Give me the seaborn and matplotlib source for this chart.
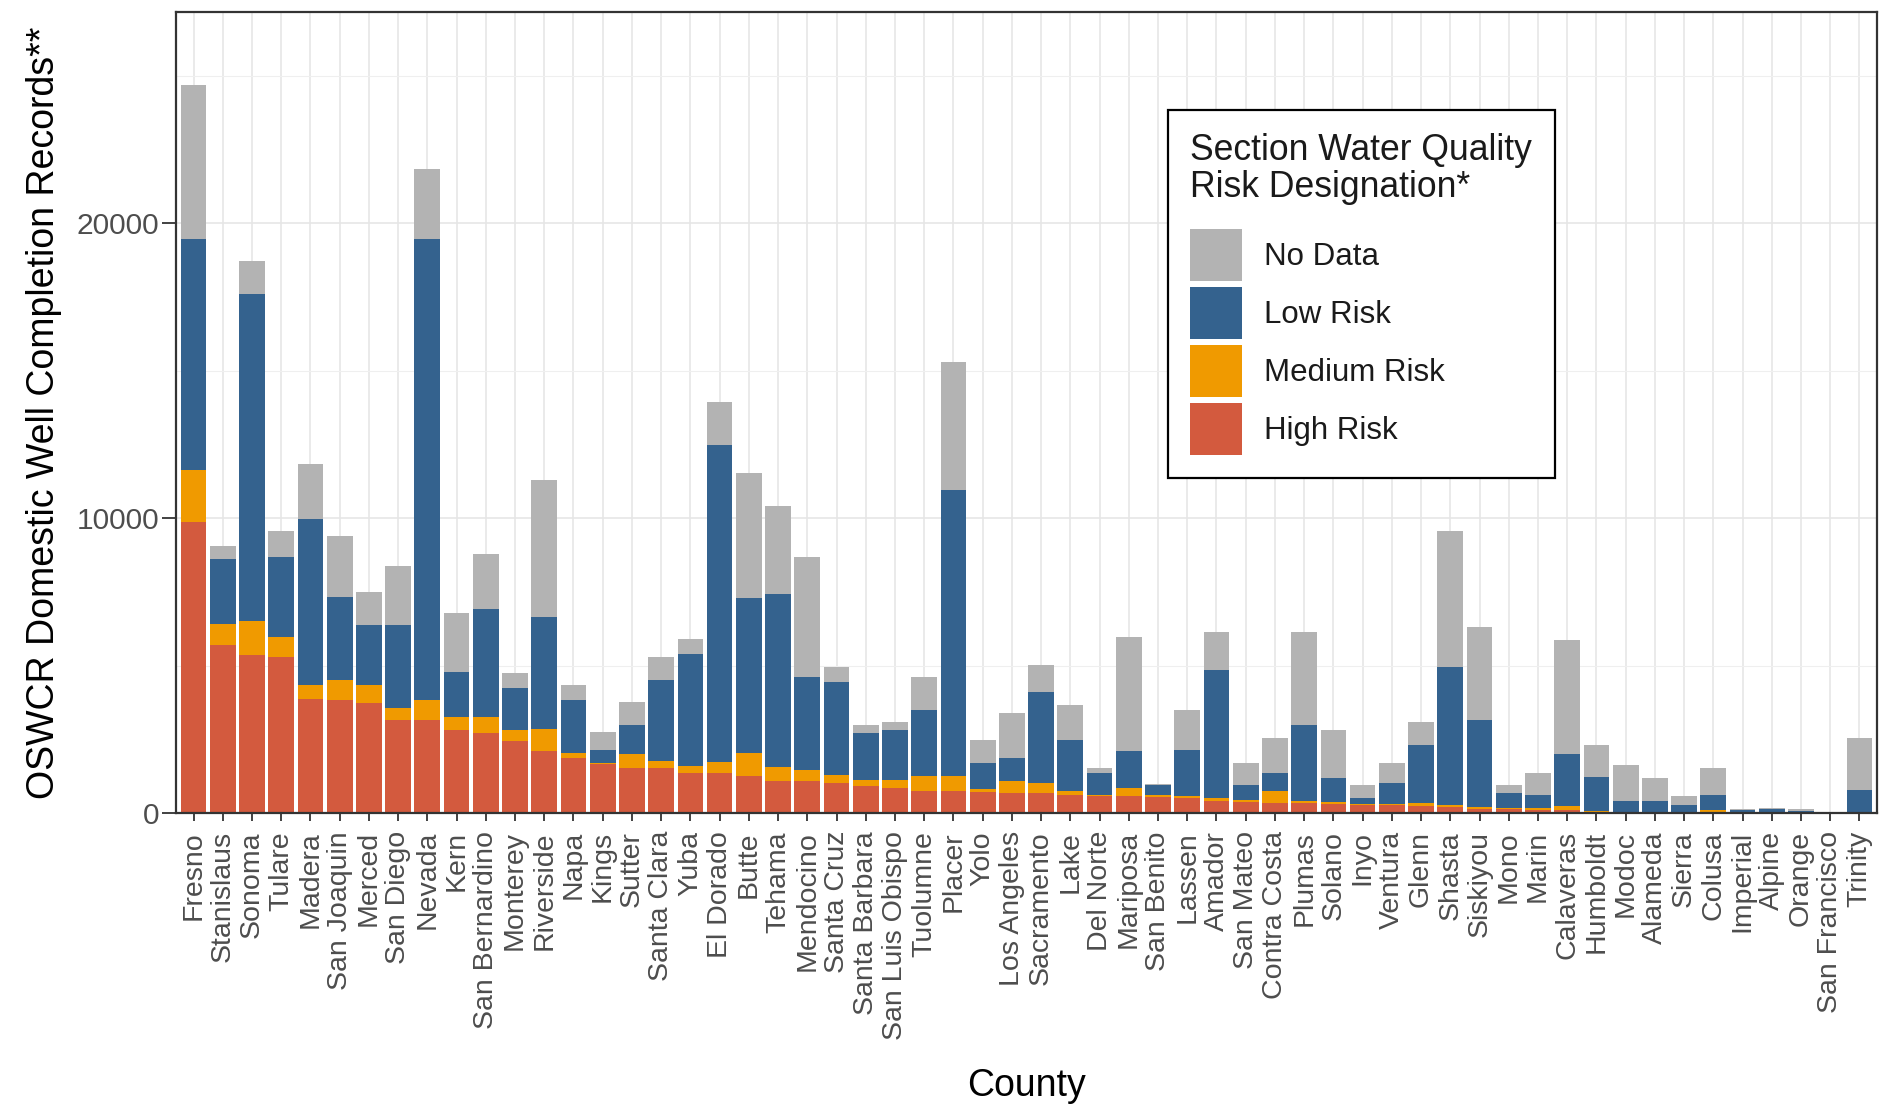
import matplotlib
matplotlib.use("Agg")
import matplotlib.pyplot as plt
from matplotlib.patches import Patch, Rectangle
from matplotlib.legend_handler import HandlerBase
from matplotlib.ticker import MultipleLocator
import numpy as np
import pandas as pd
import seaborn as sns

counties = ["Fresno", "Stanislaus", "Sonoma", "Tulare", "Madera", "San Joaquin", "Merced",
            "San Diego", "Nevada", "Kern", "San Bernardino", "Monterey", "Riverside", "Napa",
            "Kings", "Sutter", "Santa Clara", "Yuba", "El Dorado", "Butte", "Tehama",
            "Mendocino", "Santa Cruz", "Santa Barbara", "San Luis Obispo", "Tuolumne",
            "Placer", "Yolo", "Los Angeles", "Sacramento", "Lake", "Del Norte", "Mariposa",
            "San Benito", "Lassen", "Amador", "San Mateo", "Contra Costa", "Plumas", "Solano",
            "Inyo", "Ventura", "Glenn", "Shasta", "Siskiyou", "Mono", "Marin", "Calaveras",
            "Humboldt", "Modoc", "Alameda", "Sierra", "Colusa", "Imperial", "Alpine",
            "Orange", "San Francisco", "Trinity"]

high_risk = [9880, 5700, 5350, 5280, 3880, 3820, 3730, 3170, 3150, 2800, 2730, 2450, 2120, 1880,
             1670, 1530, 1520, 1360, 1360, 1270, 1100, 1070, 1020, 900, 850, 740, 740, 720,
             680, 670, 600, 570, 565, 555, 510, 420, 370, 340, 335, 305, 285, 280, 230, 190,
             150, 120, 100, 95, 50, 40, 35, 30, 25, 0, 0, 0, 0, 0]
medium_risk = [1740, 720, 1150, 690, 450, 680, 600, 400, 680, 450, 520, 380, 720, 170,
               30, 480, 260, 230, 360, 770, 450, 400, 280, 230, 280, 510, 510, 90,
               420, 340, 160, 50, 280, 40, 60, 90, 80, 400, 80, 60, 10, 20, 110, 90,
               40, 50, 70, 130, 20, 10, 10, 10, 60, 0, 0, 0, 0, 10]
low_risk = [7850, 2200, 11100, 2730, 5650, 2830, 2050, 2820, 15630, 1520, 3670, 1420, 3820, 1780,
            450, 970, 2740, 3790, 10770, 5240, 5880, 3130, 3140, 1580, 1690, 2260, 9690, 890,
            770, 3080, 1720, 740, 1270, 350, 1580, 4350, 490, 620, 2580, 830, 220, 720, 1960, 4660,
            2980, 510, 430, 1760, 1140, 370, 370, 220, 510, 90, 140, 70, 0, 760]
no_data = [5230, 420, 1120, 850, 1870, 2050, 1120, 1980, 2400, 2030, 1870, 500, 4630, 500,
           600, 770, 760, 510, 1450, 4260, 3000, 4090, 500, 270, 260, 1100, 4350, 770,
           1530, 940, 1180, 170, 3850, 30, 1330, 1270, 760, 1190, 3130, 1620, 420, 680, 780, 4620,
           3140, 260, 760, 3900, 1090, 1200, 770, 330, 930, 50, 30, 50, 0, 1780]

categories = ["No Data", "Low Risk", "Medium Risk", "High Risk"]
colors = {"No Data": "#B3B3B3", "Low Risk": "#34628E",
          "Medium Risk": "#F09A00", "High Risk": "#D35A3E"}

df = pd.DataFrame({"County": counties, "High Risk": high_risk, "Medium Risk": medium_risk,
                   "Low Risk": low_risk, "No Data": no_data})
df["c_high"] = df["High Risk"]
df["c_med"] = df["c_high"] + df["Medium Risk"]
df["c_low"] = df["c_med"] + df["Low Risk"]
df["c_all"] = df["c_low"] + df["No Data"]

sns.set_theme(style="white")
plt.rcParams["font.family"] = ["Liberation Sans", "DejaVu Sans"]

W, H, DPI = 1883, 1116, 100
fig = plt.figure(figsize=(W / DPI, H / DPI), dpi=DPI)
left, right, top, bottom = 176, 1877, 12, 813
ax = fig.add_axes([left / W, 1 - bottom / H, (right - left) / W, (bottom - top) / H])

layers = [("c_all", "No Data"), ("c_low", "Low Risk"), ("c_med", "Medium Risk"), ("c_high", "High Risk")]
for col, cat in layers:
    sns.barplot(data=df, x="County", y=col, order=counties, color=colors[cat],
                saturation=1, width=0.88, errorbar=None, ax=ax, linewidth=0, zorder=2)

ax.set_xlim(-0.6, len(counties) - 0.4)
ymax = df["c_all"].max() * 1.1
ax.set_ylim(0, ymax)
ax.yaxis.set_major_locator(MultipleLocator(10000))
ax.yaxis.set_minor_locator(MultipleLocator(5000))
ax.set_axisbelow(True)
ax.grid(True, which="major", axis="both", color="#E6E6E6", linewidth=1.2, zorder=0)
ax.grid(True, which="minor", axis="y", color="#EFEFEF", linewidth=0.8, zorder=0)

for s in ax.spines.values():
    s.set_visible(True)
    s.set_color("#333333")
    s.set_linewidth(1.6)

ax.tick_params(axis="x", which="major", bottom=True, length=6, width=1.3, color="#333333",
               pad=7, labelsize=20.5, labelcolor="#4D4D4D", labelrotation=90)
ax.tick_params(axis="y", which="major", left=True, length=10, width=1.3, color="#333333",
               pad=2, labelsize=21.5, labelcolor="#4D4D4D")
ax.tick_params(axis="y", which="minor", left=False)

ax.set_xlabel("County", fontsize=27, color="black")
ax.set_ylabel("OSWCR Domestic Well Completion Records**", fontsize=27, color="black")
ax.xaxis.set_label_coords(0.5, -0.318)
ax.yaxis.set_label_coords(-0.067, 0.5)


class FullBoxHandler(HandlerBase):
    def legend_artist(self, legend, orig_handle, fontsize, handlebox):
        r = Rectangle((-handlebox.xdescent, -handlebox.ydescent),
                      handlebox.width, handlebox.height,
                      facecolor=orig_handle.get_facecolor(), edgecolor="none",
                      transform=handlebox.get_transform())
        handlebox.add_artist(r)
        return r


handles = [Patch(facecolor=colors[c], edgecolor="none", label=c) for c in categories]
leg = fig.legend(handles=handles, title="Section Water Quality\nRisk Designation*",
                 loc="upper left", bbox_to_anchor=(1168 / W, 1 - 110 / H),
                 bbox_transform=fig.transFigure, fontsize=22.5, title_fontsize=25.6,
                 frameon=True, fancybox=False, edgecolor="black", framealpha=1,
                 handlelength=1.66, handleheight=2.18, handletextpad=0.7,
                 labelspacing=0.2, borderpad=0.72, borderaxespad=0, alignment="left",
                 handler_map={Patch: FullBoxHandler()})
leg.get_frame().set_linewidth(1.6)
leg._legend_box.sep = 17
for t in leg.get_texts():
    t.set_color("#1A1A1A")
leg.get_title().set_color("#1A1A1A")
leg.get_title().set_linespacing(1.1)

fig.savefig("out.png", dpi=DPI)
